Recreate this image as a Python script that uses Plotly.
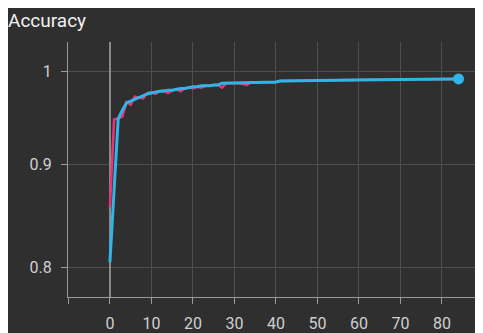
import plotly.graph_objects as go

epochs = list(range(0, 85))

train_acc = [0.857, 0.947, 0.948, 0.950, 0.966, 0.963, 0.972, 0.971, 0.970, 0.976,
             0.977, 0.975, 0.978, 0.979, 0.976, 0.979, 0.980, 0.978, 0.981, 0.982,
             0.981, 0.983, 0.982, 0.984, 0.984, 0.985, 0.985, 0.982, 0.987, 0.987,
             0.987, 0.987, 0.986, 0.985, 0.988, 0.988, 0.988, 0.988, 0.988, 0.988,
             0.988, 0.9895, 0.9895, 0.9897, 0.9898, 0.9898, 0.9899, 0.9900, 0.9900, 0.9901,
             0.9902, 0.9902, 0.9903, 0.9903, 0.9904, 0.9904, 0.9905, 0.9905, 0.9906, 0.9906,
             0.9907, 0.9907, 0.9908, 0.9908, 0.9909, 0.9909, 0.9910, 0.9910, 0.9910, 0.9911,
             0.9911, 0.9912, 0.9912, 0.9912, 0.9913, 0.9913, 0.9913, 0.9914, 0.9914, 0.9914,
             0.9915, 0.9915, 0.9915, 0.9916, 0.9916]

val_acc = [0.805, 0.8735, 0.948, 0.957, 0.965, 0.967, 0.969, 0.971, 0.973, 0.975,
           0.976, 0.977, 0.978, 0.978, 0.979, 0.979, 0.980, 0.981, 0.981, 0.982,
           0.983, 0.983, 0.984, 0.984, 0.984, 0.985, 0.985, 0.987, 0.987, 0.9872,
           0.9874, 0.9875, 0.9876, 0.9877, 0.9878, 0.9879, 0.9880, 0.9881, 0.9882, 0.9883,
           0.9884, 0.9895, 0.9896, 0.9897, 0.9898, 0.9899, 0.9900, 0.9900, 0.9901, 0.9902,
           0.9902, 0.9903, 0.9903, 0.9904, 0.9904, 0.9905, 0.9905, 0.9906, 0.9906, 0.9907,
           0.9907, 0.9908, 0.9908, 0.9909, 0.9909, 0.9910, 0.9910, 0.9911, 0.9911, 0.9912,
           0.9912, 0.9913, 0.9913, 0.9914, 0.9914, 0.9914, 0.9915, 0.9915, 0.9916, 0.9916,
           0.9917, 0.9917, 0.9917, 0.9918, 0.9918]

x_tickvals = [-10, 0, 10, 20, 30, 40, 50, 60, 70, 80]
x_ticktext = ["", "0", "10", "20", "30", "40", "50", "60", "70", "80"]
y_tickvals = [0.8, 0.9, 1.0]
y_ticktext = ["0.8", "0.9", "1"]

BG = "#2f2f2f"
PINK = "#e8337a"
BLUE = "#2fb5e6"

fig = go.Figure()
fig.add_trace(go.Scatter(x=epochs, y=train_acc, mode="lines",
                         line=dict(color=PINK, width=2.5), showlegend=False))
fig.add_trace(go.Scatter(x=epochs, y=val_acc, mode="lines",
                         line=dict(color=BLUE, width=3), showlegend=False))
fig.add_trace(go.Scatter(x=[epochs[-1]], y=[val_acc[-1]], mode="markers",
                         marker=dict(color=BLUE, size=11), showlegend=False))

fig.update_layout(
    width=475, height=325,
    margin=dict(l=60, r=0, t=34, b=28),
    paper_bgcolor=BG, plot_bgcolor=BG,
    font=dict(family="Roboto", color="#d0d0d0", size=16),
    title=dict(text="Accuracy", xref="container", x=0.0, xanchor="left",
               yref="container", y=0.962, yanchor="middle", pad=dict(l=0, t=0, b=0, r=0),
               font=dict(size=19, color="#f0f0f0", family="Roboto")),
)
fig.update_xaxes(
    range=[-10.1, 89.9], tickvals=x_tickvals, ticktext=x_ticktext,
    showgrid=True, gridcolor="#4e4e4e", gridwidth=1.2,
    zeroline=True, zerolinecolor="#8a8a8a", zerolinewidth=1.5,
    showline=True, linecolor="#9a9a9a", linewidth=1.2,
    ticks="outside", ticklen=6, tickcolor="#9a9a9a", ticklabelstandoff=6,
)
fig.update_yaxes(
    type="log", range=[-0.1115, 0.0147], tickvals=y_tickvals, ticktext=y_ticktext,
    showgrid=True, gridcolor="#4e4e4e", gridwidth=1.2,
    showline=True, linecolor="#9a9a9a", linewidth=1.2,
    ticks="outside", ticklen=6, tickcolor="#9a9a9a", ticklabelstandoff=6,
)

fig.write_html("out.html")
